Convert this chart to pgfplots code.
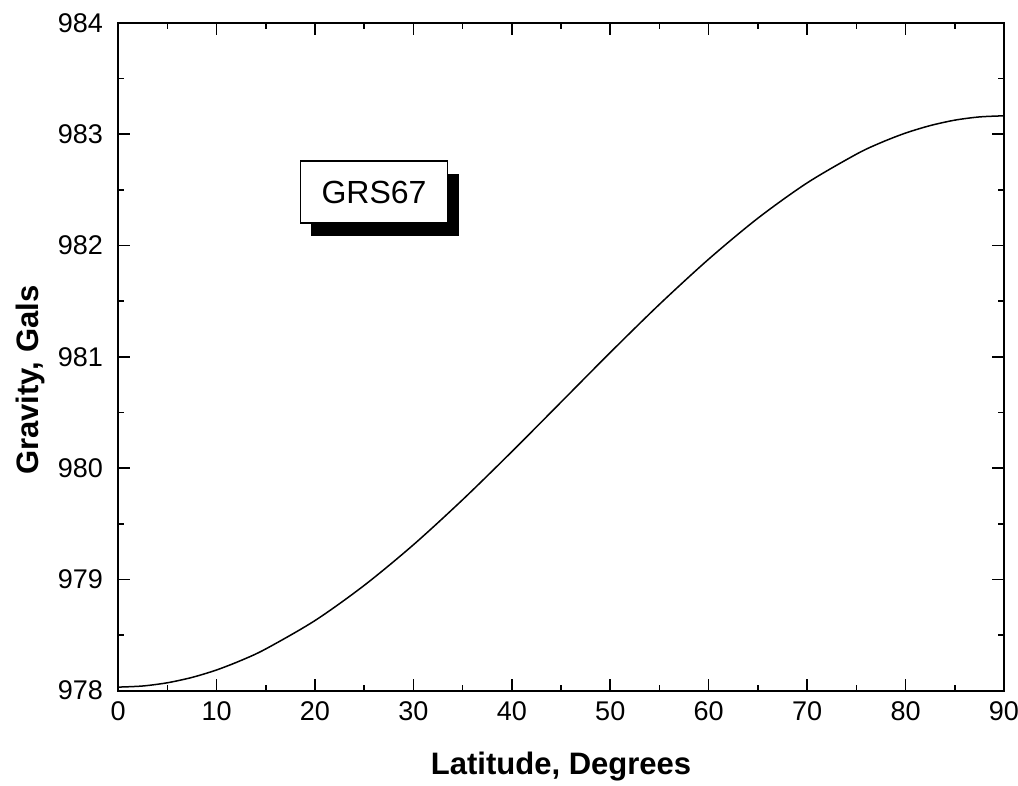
\documentclass[border=0pt]{standalone}
\usepackage{fontspec}
\setmainfont{Liberation Sans}
\usepackage{pgfplots}
\pgfplotsset{compat=1.18}
\usetikzlibrary{shadows}
\begin{document}
\begin{tikzpicture}
\useasboundingbox (-59pt,-47.5pt) rectangle (449.5pt,345pt);
\begin{axis}[
  at={(0,0)}, anchor=south west,
  scale only axis,
  width=442.5pt, height=333.5pt,
  xmin=0, xmax=90, ymin=978, ymax=984,
  xtick={0,10,...,90}, ytick={978,979,...,984},
  minor x tick num=1, minor y tick num=1,
  tick align=inside,
  major tick length=6pt, minor tick length=3pt,
  axis line style={line width=1pt},
  every tick/.style={black, line width=0.8pt},
  tick label style={font=\fontsize{13.5}{15}\selectfont},
  /pgf/number format/assume math mode=true,
  /pgf/number format/1000 sep={},
  xticklabel style={yshift=-2pt},
  yticklabel style={xshift=-4pt},
  xlabel={Latitude, Degrees},
  ylabel={Gravity, Gals},
  xlabel style={font=\fontsize{15.5}{18}\bfseries, at={(axis description cs:0.5,-0.126)}, anchor=base},
  ylabel style={font=\fontsize{15.5}{18}\bfseries, at={(axis description cs:-0.0994,0.465)}, anchor=center},
  clip=false,
]
\addplot[black, line width=0.75pt, smooth] coordinates {
(0,978.032) (2.5,978.042) (5,978.071) (7.5,978.119) (10,978.186) (12.5,978.272) (15,978.375) (20,978.630)
(25,978.946) (30,979.311) (35,979.716) (40,980.148) (45,980.593)
(50,981.039) (55,981.472) (60,981.878) (65,982.246) (70,982.563)
(75,982.821) (77.5,982.925) (80,983.011) (82.5,983.078) (85,983.127) (87.5,983.156) (90,983.166)
};
\node[draw=black, line width=0.75pt, fill=white, minimum width=73.5pt, minimum height=31pt,
  inner sep=0pt, font=\fontsize{16}{19}\selectfont,
  drop shadow={shadow xshift=5.5pt, shadow yshift=-6.5pt, fill=black, opacity=1}]
  at (axis cs:26,982.48) {GRS67};
\end{axis}
\end{tikzpicture}
\end{document}
